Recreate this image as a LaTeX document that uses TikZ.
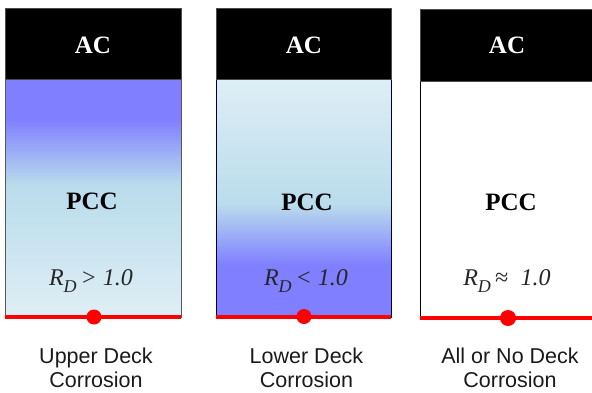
\documentclass[tikz,border=0pt]{standalone}
\usepackage{fontspec}
\setmainfont{Liberation Serif}
\newfontfamily\labelfont{Liberation Sans}
\definecolor{cpurple}{HTML}{7F7FFF}
\definecolor{cblue}{HTML}{B9DCEC}
\definecolor{cpale}{HTML}{DFEEF5}
\definecolor{clabel}{HTML}{1A1A1A}
\begin{document}
\begin{tikzpicture}[x=1pt,y=-1pt,
  acbox/.style={fill=black,draw=black!70,line width=0.6pt,inner sep=0pt},
  actext/.style={text=white,font=\bfseries\fontsize{25}{30}\selectfont},
  pcctext/.style={text=black,font=\bfseries\fontsize{25}{30}\selectfont},
  rdtext/.style={text=black!85,font=\itshape\fontsize{24}{28}\selectfont},
  pccborder/.style={draw=black!65,line width=0.8pt},
  redline/.style={draw=red,line width=3.2pt},
  reddot/.style={circle,fill=red,inner sep=0pt,minimum size=15pt},
  caption/.style={text=clabel,align=center,font=\labelfont\fontsize{21.5}{24.5}\selectfont}]
\useasboundingbox (0,0) rectangle (592,392);

% ---------- Panel 1 ----------
\fill[cpurple] (5,79) rectangle (181,119);
\shade[top color=cpurple,bottom color=cblue] (5,118.5) rectangle (181,185);
\shade[top color=cblue,bottom color=cpale] (5,184.5) rectangle (181,317);
\draw[pccborder] (5,79) rectangle (181,317);
\fill[acbox] (5,8) rectangle (181,79);
\node[actext] (ac1) at (93,45) {AC};
\node[pcctext] (pcc1) at (92,201) {PCC};
\node[rdtext] (rd1) at (91,281) {R\raisebox{-0.3em}{\fontsize{18}{20}\selectfont D}\,> 1.0};
\coordinate (l1a) at (5,317);
\coordinate (l1b) at (181,317);
\draw[redline] (l1a) -- (l1b);
\node[reddot] (d1) at (94,317) {};
\node[caption] (cap1) at (96,368) {Upper Deck\\Corrosion};

% ---------- Panel 2 ----------
\shade[top color=cpale,bottom color=cblue] (216,79) rectangle (391,205);
\shade[top color=cblue,bottom color=cpurple] (216,204.5) rectangle (391,265);
\fill[cpurple] (216,264.5) rectangle (391,317);
\draw[pccborder,draw=black!75!blue] (216,79) rectangle (391,317);
\fill[acbox] (216,8) rectangle (391,79);
\node[actext] (ac2) at (304,45) {AC};
\node[pcctext] (pcc2) at (307,202) {PCC};
\node[rdtext] (rd2) at (306,281) {R\raisebox{-0.3em}{\fontsize{18}{20}\selectfont D}\,< 1.0};
\coordinate (l2a) at (216,317);
\coordinate (l2b) at (391,317);
\draw[redline] (l2a) -- (l2b);
\node[reddot] (d2) at (304,316.5) {};
\node[caption] (cap2) at (306.5,368) {Lower Deck\\Corrosion};

% ---------- Panel 3 ----------
\draw[draw=black,line width=0.9pt] (420,81) -- (420,318);
\fill[acbox] (420,9) rectangle (594,81);
\node[actext] (ac3) at (507,45) {AC};
\node[pcctext] (pcc3) at (511,202) {PCC};
\node[rdtext] (rd3) at (507,281) {R\raisebox{-0.3em}{\fontsize{18}{20}\selectfont D}\,≈ \;1.0};
\coordinate (l3a) at (420,318);
\coordinate (l3b) at (592,318);
\draw[redline] (l3a) -- (l3b);
\node[reddot,minimum size=16pt] (d3) at (508,318) {};
\node[caption] (cap3) at (510,368) {All or No Deck\\Corrosion};
\end{tikzpicture}
\end{document}
